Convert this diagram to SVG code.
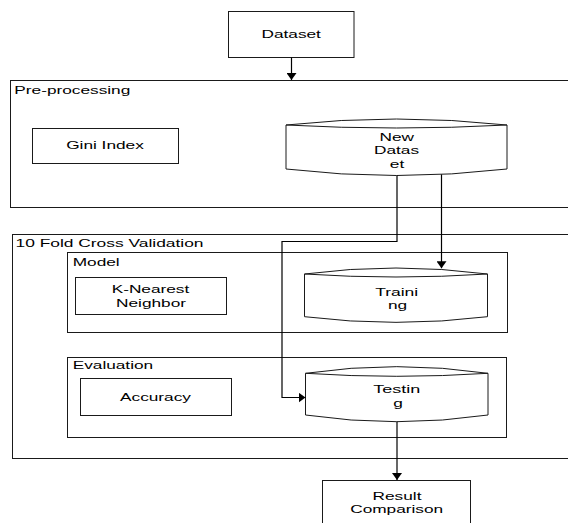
<svg xmlns="http://www.w3.org/2000/svg" width="568" height="523" viewBox="0 0 568 523">
  <style>
    .box { fill: #ffffff; stroke: #1a1a1a; stroke-width: 1; }
    .grp { fill: none; stroke: #1a1a1a; stroke-width: 1; }
    .cyl { fill: #ffffff; stroke: #1a1a1a; stroke-width: 1; }
    .conn { fill: none; stroke: #000000; stroke-width: 1.2; }
    text { font-family: "Liberation Sans", Arial, sans-serif; font-size: 11.5px; fill: #000000; }
    .c { text-anchor: middle; }
  </style>
  <defs>
    <marker id="arrow" viewBox="0 0 7 10" refX="7" refY="5" markerWidth="7" markerHeight="10" markerUnits="userSpaceOnUse" orient="auto">
      <path d="M0,0 L7,5 L0,10 Z" fill="#000000"/>
    </marker>
  </defs>
  <rect width="568" height="523" fill="#ffffff"/>

  <g id="preprocessing">
    <rect class="grp" x="10.5" y="80.5" width="570" height="127"/>
    <text x="14.3" y="94" textLength="116" lengthAdjust="spacingAndGlyphs">Pre-processing</text>
  </g>

  <g id="cross-validation">
    <rect class="grp" x="12.5" y="234.5" width="570" height="224"/>
    <text x="15.5" y="246.7" textLength="188" lengthAdjust="spacingAndGlyphs">10 Fold Cross Validation</text>
  </g>

  <g id="model">
    <rect class="grp" x="67.5" y="252.5" width="440" height="80"/>
    <text x="72.7" y="266" textLength="47" lengthAdjust="spacingAndGlyphs">Model</text>
  </g>

  <g id="evaluation">
    <rect class="grp" x="67.5" y="357.5" width="439" height="80"/>
    <text x="72.7" y="369" textLength="80.5" lengthAdjust="spacingAndGlyphs">Evaluation</text>
  </g>

  <g id="dataset">
    <rect class="box" x="228.5" y="11.5" width="125.5" height="46"/>
    <text class="c" x="291.2" y="38" textLength="59.4" lengthAdjust="spacingAndGlyphs">Dataset</text>
  </g>

  <g id="gini-index">
    <rect class="box" x="32.5" y="128.5" width="146" height="35"/>
    <text class="c" x="105" y="149.3" textLength="77.7" lengthAdjust="spacingAndGlyphs">Gini Index</text>
  </g>

  <g id="new-dataset">
    <path class="cyl" d="M286,125 Q396.5,113 507,125 V169 Q396.5,182 286,169 Z"/>
    <path class="grp" d="M286,125 Q396.5,131 507,125"/>
    <text class="c" x="396.7" y="141" textLength="34.5" lengthAdjust="spacingAndGlyphs">New</text>
    <text class="c" x="396.5" y="154.3" textLength="45.1" lengthAdjust="spacingAndGlyphs">Datas</text>
    <text class="c" x="397" y="167.6" textLength="14.4" lengthAdjust="spacingAndGlyphs">et</text>
  </g>

  <g id="knn">
    <rect class="box" x="75.5" y="277.5" width="151" height="37"/>
    <text class="c" x="150.5" y="293.2" textLength="77.6" lengthAdjust="spacingAndGlyphs">K-Nearest</text>
    <text class="c" x="151" y="306.5" textLength="70" lengthAdjust="spacingAndGlyphs">Neighbor</text>
  </g>

  <g id="training">
    <path class="cyl" d="M304.5,274 Q396,262 487.5,274 V316.7 Q396,328 304.5,316.7 Z"/>
    <path class="grp" d="M304.5,274 Q396,280 487.5,274"/>
    <text class="c" x="396.7" y="296.2" textLength="43.1" lengthAdjust="spacingAndGlyphs">Traini</text>
    <text class="c" x="397.5" y="309.2" textLength="19.2" lengthAdjust="spacingAndGlyphs">ng</text>
  </g>

  <g id="accuracy">
    <rect class="box" x="80.5" y="378.5" width="151" height="37"/>
    <text class="c" x="155.5" y="401" textLength="70.9" lengthAdjust="spacingAndGlyphs">Accuracy</text>
  </g>

  <g id="testing">
    <path class="cyl" d="M305.5,373.3 Q396.8,360 488,373.3 V415 Q396.8,428.4 305.5,415 Z"/>
    <path class="grp" d="M305.5,373.3 Q396.8,379.3 488,373.3"/>
    <text class="c" x="396.7" y="393.3" textLength="47" lengthAdjust="spacingAndGlyphs">Testin</text>
    <text class="c" x="398" y="406.8" textLength="9.6" lengthAdjust="spacingAndGlyphs">g</text>
  </g>

  <g id="result-comparison">
    <rect class="box" x="322.5" y="480.5" width="148" height="50"/>
    <text class="c" x="397" y="500" textLength="48.9" lengthAdjust="spacingAndGlyphs">Result</text>
    <text class="c" x="396.7" y="512.8" textLength="93" lengthAdjust="spacingAndGlyphs">Comparison</text>
  </g>

  <g id="connectors">
    <path class="conn" d="M291.5,57.5 V80" marker-end="url(#arrow)"/>
    <path class="conn" d="M397,175.5 V241.5 H282 V397.5 H305.5" marker-end="url(#arrow)"/>
    <path class="conn" d="M441.5,174.4 V268.3" marker-end="url(#arrow)"/>
    <path class="conn" d="M397,421.7 V480" marker-end="url(#arrow)"/>
  </g>
</svg>
